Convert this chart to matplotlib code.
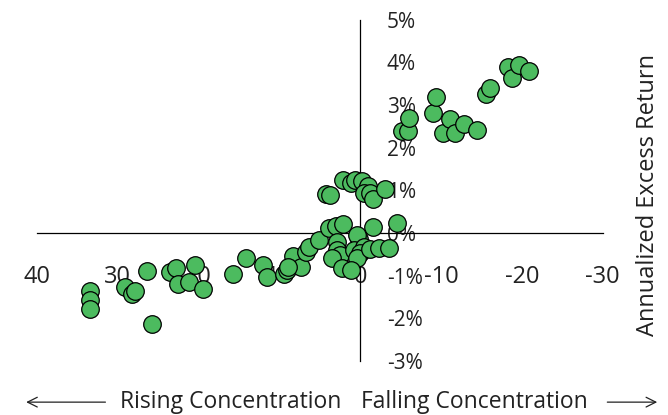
import matplotlib.pyplot as plt
from matplotlib.patches import FancyArrowPatch

plt.rcParams['font.family'] = ['Open Sans', 'DejaVu Sans']

# change in concentration (positive = rising) and annualized excess return (%)
concentration = [33.4, 33.4, 33.4, 29.1, 28.3, 27.9, 26.4, 25.8,
                  23.5, 22.8, 22.6, 21.2, 20.4, 19.5, 15.7, 14.2, 12.0, 11.6,
                  9.4, 9.1, 8.3, 7.4, 8.9, 6.7, 6.3, 5.1,
                  4.3, 3.7, 3.9, 3.0, 2.1,
                  2.1, 1.2, 0.6, -0.2, -1.0, -0.4, -1.2, -1.6, -3.1,
                  -1.6, -4.5, 0.2, 0.4, 2.9,
                  2.9, 2.5, 3.5, 0.8, -0.4, 0.0, 0.4, -1.2, -2.3, -3.5,
                  2.3, 1.2,
                  -5.2, -5.9, -6.0, -9.0, -9.4, -10.2, -11.1, -11.7, -12.8,
                  -14.4, -15.6, -16.1, -18.3, -18.8, -19.6, -20.9]
excess_return = [-1.35, -1.56, -1.78, -1.27, -1.43, -1.35, -0.90, -2.14,
                 -0.91, -0.83, -1.19, -1.16, -0.75, -1.32, -0.97, -0.58, -0.76, -1.04,
                 -0.97, -0.86, -0.54, -0.80, -0.79, -0.44, -0.33, -0.17,
                 0.91, 0.89, 0.12, 0.16, 0.20,
                 1.23, 1.18, 1.23, 1.22, 1.10, 0.93, 0.93, 0.79, 1.04,
                 0.15, 0.23, -0.15, -0.05, -0.20,
                 -0.40, -0.51, -0.59, -0.40, -0.33, -0.47, -0.59, -0.38, -0.36, -0.36,
                 -0.83, -0.86,
                 2.38, 2.38, 2.70, 2.80, 3.18, 2.34, 2.68, 2.34, 2.56,
                 2.41, 3.26, 3.40, 3.89, 3.64, 3.94, 3.79]

x_ticks = [40, 30, 20, 10, 0, -10, -20, -30]
y_ticks = [-3, -2, -1, 0, 1, 2, 3, 4, 5]

fig = plt.figure(figsize=(6.68, 4.15), dpi=100)
ax = fig.add_axes([0.0554, 0.130, 0.847, 0.823])

ax.scatter(concentration, excess_return, s=160, c='#4cbb5f',
           edgecolors='black', linewidths=0.9, zorder=3)

ax.set_xlim(40, -30)
ax.set_ylim(-3, 5)

for side in ['top', 'left']:
    ax.spines[side].set_visible(False)
ax.spines['bottom'].set_position(('data', 0))
ax.spines['right'].set_position(('data', 0))
ax.spines['bottom'].set_linewidth(0.9)
ax.spines['right'].set_linewidth(0.9)

ax.yaxis.set_ticks_position('right')
ax.set_xticks(x_ticks)
ax.set_xticklabels([str(t) for t in x_ticks])
ax.set_yticks(y_ticks)
ax.set_yticklabels(['{}%'.format(t) for t in y_ticks])
ax.tick_params(axis='x', length=0, pad=23, labelsize=17, colors='#222222')
ax.tick_params(axis='y', length=0, pad=19, labelsize=15, colors='#222222')

fig.text(0.970, 0.53, 'Annualized Excess Return', rotation=90,
         ha='center', va='center', fontsize=17, color='#222222')

fig.text(0.345, 0.031, 'Rising Concentration', ha='center', va='center',
         fontsize=16.5, color='#222222')
fig.text(0.710, 0.031, 'Falling Concentration', ha='center', va='center',
         fontsize=16.5, color='#222222')
fig.add_artist(FancyArrowPatch(
    (0.162, 0.031), (0.035, 0.031), transform=fig.transFigure,
    arrowstyle='->,head_length=7,head_width=3.5', lw=0.9, color='#222222'))
fig.add_artist(FancyArrowPatch(
    (0.905, 0.031), (0.988, 0.031), transform=fig.transFigure,
    arrowstyle='->,head_length=7,head_width=3.5', lw=0.9, color='#222222'))

plt.savefig('out.png', dpi=100)
